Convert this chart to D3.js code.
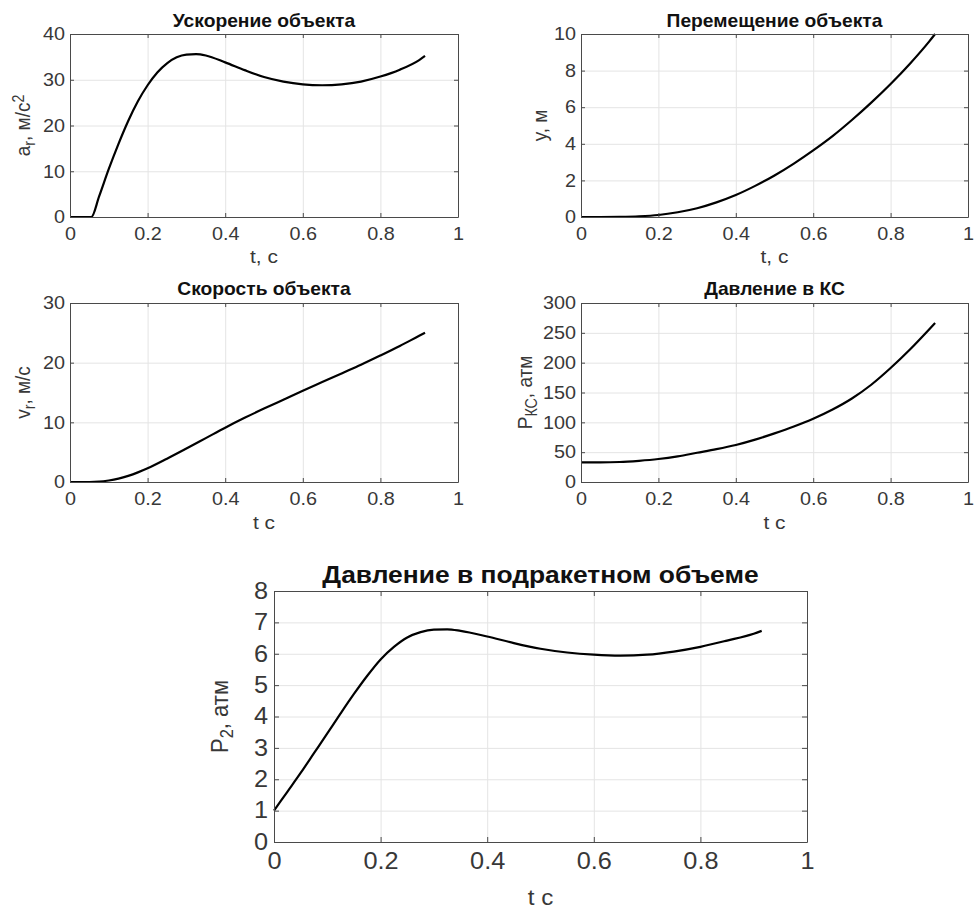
<!DOCTYPE html>
<html>
<head>
<meta charset="utf-8">
<script src="https://cdn.jsdelivr.net/npm/d3@7"></script>
<style>
  body { margin: 0; background: #fff; }
  svg { display: block; font-family: "Liberation Sans", Arial, sans-serif; }
</style>
</head>
<body>
<svg id="fig" width="975" height="917"></svg>
<script>
// data
var xTicks = [0, 0.2, 0.4, 0.6, 0.8, 1];

var tAccel = [0, 0.025, 0.05, 0.055, 0.075, 0.1, 0.125, 0.15, 0.175, 0.2, 0.225, 0.25, 0.275, 0.3, 0.325, 0.35, 0.4, 0.45, 0.5, 0.55, 0.6, 0.65, 0.7, 0.75, 0.8, 0.85, 0.9, 0.915];
var accel = [0, 0, 0, 0, 4.5, 10.5, 16, 21, 25.3, 28.8, 31.6, 33.6, 34.9, 35.5, 35.6, 35.3, 33.8, 32.1, 30.6, 29.6, 29.0, 28.8, 29.0, 29.6, 30.7, 32.2, 34.3, 35.2];

var tPos = [0, 0.05, 0.1, 0.15, 0.2, 0.25, 0.3, 0.35, 0.4, 0.45, 0.5, 0.55, 0.6, 0.65, 0.7, 0.75, 0.8, 0.85, 0.9, 0.915];
var pos = [0, 0, 0.01, 0.04, 0.11, 0.26, 0.48, 0.8, 1.2, 1.7, 2.27, 2.92, 3.64, 4.42, 5.3, 6.25, 7.27, 8.38, 9.6, 10.0];

var tVel = [0, 0.05, 0.075, 0.1, 0.125, 0.15, 0.175, 0.2, 0.25, 0.3, 0.35, 0.4, 0.45, 0.5, 0.55, 0.6, 0.65, 0.7, 0.75, 0.8, 0.85, 0.9, 0.915];
var vel = [0, 0, 0.05, 0.25, 0.57, 1.03, 1.61, 2.29, 3.9, 5.6, 7.35, 9.1, 10.75, 12.3, 13.8, 15.3, 16.75, 18.2, 19.65, 21.2, 22.8, 24.5, 25.0];

var tPkc = [0, 0.05, 0.1, 0.15, 0.2, 0.25, 0.3, 0.35, 0.4, 0.45, 0.5, 0.55, 0.6, 0.65, 0.7, 0.75, 0.8, 0.85, 0.9, 0.915];
var pkc = [33, 33, 33.5, 35.5, 38.5, 43, 49, 55, 62, 71, 81.5, 93, 106, 121.5, 140, 163, 191, 222, 256, 266.5];

var tP2 = [0, 0.025, 0.05, 0.075, 0.1, 0.125, 0.15, 0.175, 0.2, 0.225, 0.25, 0.275, 0.3, 0.325, 0.35, 0.4, 0.45, 0.5, 0.55, 0.6, 0.65, 0.7, 0.75, 0.8, 0.85, 0.9, 0.915];
var p2 = [1.0, 1.6, 2.2, 2.83, 3.46, 4.1, 4.72, 5.3, 5.82, 6.22, 6.52, 6.69, 6.77, 6.78, 6.73, 6.55, 6.34, 6.16, 6.04, 5.97, 5.94, 5.97, 6.07, 6.22, 6.42, 6.64, 6.73];

var SX = 1.1;           // the picture is a little stretched sideways, text too
var axisCol = "#4a4a4a", textCol = "#383838", gridCol = "#e4e4e4";

var svg = d3.select("#fig");

// text with sideways stretch; parts = [[str, "sub"|"sup"|null], ...]
function stretchText(x, y, parts, size, opts){
  opts = opts || {};
  var t = svg.append("text")
    .attr("transform", "translate(" + x + "," + y + ") scale(" + SX + ",1)" + (opts.rotate ? " rotate(-90)" : ""))
    .attr("text-anchor", opts.anchor || "middle")
    .style("font-size", size + "px")
    .style("font-weight", opts.bold ? "bold" : "normal")
    .style("fill", opts.bold ? "#111" : textCol);
  parts.forEach(function(p){
    var s = t.append("tspan").text(p[0]);
    if(p[1] == "sub") s.attr("baseline-shift", "-30%").style("font-size", (size * 0.75) + "px");
    if(p[1] == "sup") s.attr("baseline-shift", "40%").style("font-size", (size * 0.75) + "px");
  });
  return t;
}

function drawPanel(p){
  var w = p.x1 - p.x0, h = p.y1 - p.y0;
  var x = d3.scaleLinear().domain([0, 1]).range([0, w]),
      y = d3.scaleLinear().domain(p.yDomain).range([h, 0]);
  var fs = p.big ? 23 : 18,
      lfs = p.big ? 22 : 19;

  var g = svg.append("g").attr("transform", "translate(" + p.x0 + "," + p.y0 + ")");

  //grid
  g.append("g").attr("class", "grid").attr("transform", "translate(0," + h + ")")
    .call(d3.axisBottom(x).tickValues(xTicks).tickSize(-h).tickFormat(""));
  g.append("g").attr("class", "grid")
    .call(d3.axisLeft(y).tickValues(p.yTicks).tickSize(-w).tickFormat(""));
  g.selectAll(".grid .domain").remove();
  g.selectAll(".grid line").style("stroke", gridCol);

  //curve
  var line = d3.line()
    .x(function(d){ return x(d[0]); })
    .y(function(d){ return y(d[1]); })
    .curve(d3.curveMonotoneX);
  g.append("path")
    .datum(p.t.map(function(t, i){ return [t, p.v[i]]; }))
    .style("fill", "none")
    .style("stroke", "#000")
    .style("stroke-width", "2.2px")
    .attr("d", line);

  //box and inward ticks on all sides
  var tl = p.big ? 5 : 4;
  var bottom = g.append("g").attr("class", "ax").attr("transform", "translate(0," + h + ")")
    .call(d3.axisBottom(x).tickValues(xTicks).tickSizeInner(-tl).tickSizeOuter(0).tickPadding(p.big ? 11 : 10).tickFormat(d3.format("")));
  var left = g.append("g").attr("class", "ax")
    .call(d3.axisLeft(y).tickValues(p.yTicks).tickSizeInner(-tl).tickSizeOuter(0).tickPadding((p.big ? 6 : 5) / SX).tickFormat(d3.format("")));
  g.append("g").attr("class", "ax")
    .call(d3.axisTop(x).tickValues(xTicks).tickSizeInner(-tl).tickSizeOuter(0).tickFormat(""));
  g.append("g").attr("class", "ax").attr("transform", "translate(" + w + ",0)")
    .call(d3.axisRight(y).tickValues(p.yTicks).tickSizeInner(-tl).tickSizeOuter(0).tickFormat(""));
  g.selectAll(".ax .domain, .ax .tick line").style("stroke", axisCol);
  [bottom, left].forEach(function(a){
    a.selectAll("text")
      .attr("transform", "scale(" + SX + ",1)")
      .style("font-family", "Liberation Sans, Arial, sans-serif")
      .style("font-size", fs + "px")
      .style("fill", textCol);
  });

  //title and labels
  stretchText((p.x0 + p.x1) / 2, p.titleY, [[p.title, null]], p.big ? 24 : 17.5, {bold: true});
  stretchText((p.x0 + p.x1) / 2, p.xLabelY, [[p.xLabel, null]], lfs);
  stretchText(p.yLabelX, (p.y0 + p.y1) / 2, p.yLabel, lfs, {rotate: true});
}

var panels = [
  {x0: 70, x1: 458, y0: 34, y1: 217, t: tAccel, v: accel, yDomain: [0, 40], yTicks: [0, 10, 20, 30, 40],
   title: "Ускорение объекта", titleY: 27, xLabel: "t, с", xLabelY: 263, yLabelX: 30,
   yLabel: [["a", null], ["r", "sub"], [", м/с", null], ["2", "sup"]]},
  {x0: 581, x1: 968, y0: 34, y1: 217, t: tPos, v: pos, yDomain: [0, 10], yTicks: [0, 2, 4, 6, 8, 10],
   title: "Перемещение объекта", titleY: 27, xLabel: "t, с", xLabelY: 263, yLabelX: 547,
   yLabel: [["y, м", null]]},
  {x0: 70, x1: 458, y0: 303, y1: 482, t: tVel, v: vel, yDomain: [0, 30], yTicks: [0, 10, 20, 30],
   title: "Скорость объекта", titleY: 295, xLabel: "t с", xLabelY: 529, yLabelX: 30,
   yLabel: [["v", null], ["r", "sub"], [", м/с", null]]},
  {x0: 581, x1: 968, y0: 303, y1: 482, t: tPkc, v: pkc, yDomain: [0, 300], yTicks: [0, 50, 100, 150, 200, 250, 300],
   title: "Давление в КС", titleY: 295, xLabel: "t с", xLabelY: 529, yLabelX: 532,
   yLabel: [["P", null], ["КС", "sub"], [", атм", null]]},
  {x0: 274, x1: 807, y0: 591, y1: 842, t: tP2, v: p2, yDomain: [0, 8], yTicks: [0, 1, 2, 3, 4, 5, 6, 7, 8], big: true,
   title: "Давление в подракетном объеме", titleY: 583, xLabelY: 905, xLabel: "t с", yLabelX: 228,
   yLabel: [["P", null], ["2", "sub"], [", атм", null]]}
];

panels.forEach(drawPanel);
</script>
</body>
</html>
